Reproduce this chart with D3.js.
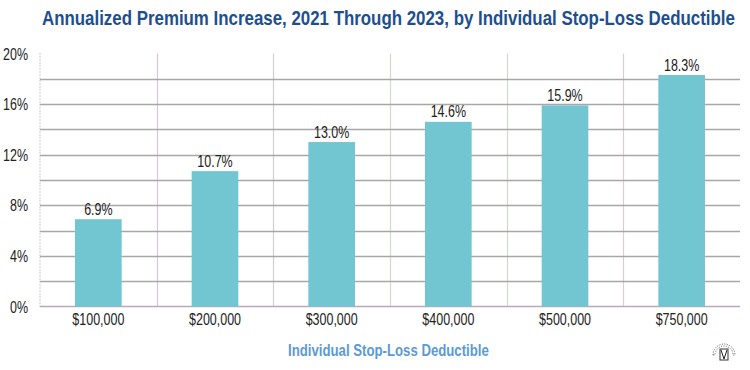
<!DOCTYPE html>
<html>
<head>
<meta charset="utf-8">
<script src="https://cdn.jsdelivr.net/npm/d3@7"></script>
<style>
  html, body { margin: 0; padding: 0; background: #fff; }
  svg { display: block; }
</style>
</head>
<body>
<svg id="chart" width="750" height="370"></svg>
<script>
const title = "Annualized Premium Increase, 2021 Through 2023, by Individual Stop-Loss Deductible";
const xAxisTitle = "Individual Stop-Loss Deductible";
const categories = ["$100,000", "$200,000", "$300,000", "$400,000", "$500,000", "$750,000"];
const values = [6.9, 10.7, 13.0, 14.6, 15.9, 18.3];
const yTicks = [0, 4, 8, 12, 16, 20];
const yGrid = [2, 4, 6, 8, 10, 12, 14, 16, 18];

(function () {
const svg = d3.select("#chart");
const mLeft = 40, mRight = 740, mTop = 53.5, mBottom = 306.5;
const font = "'Liberation Sans', Arial, Helvetica, sans-serif";
const sx = 0.78; // horizontal condensation for the light condensed labels

const x = d3.scaleBand().domain(categories).range([mLeft, mRight]).paddingInner(0).paddingOuter(0);
const y = d3.scaleLinear().domain([0, 20]).range([mBottom, mTop]);

function place(px, py) { return `translate(${px},${py}) scale(${sx},1)`; }

// fit a text horizontally between x0 and a target width via a scale transform
function fitText(sel, x0, y0, width) {
  const len = sel.node().getComputedTextLength();
  sel.attr("transform", `translate(${x0},${y0}) scale(${width / len},1)`);
}

// Title
const t = svg.append("text")
  .attr("font-family", font).attr("font-weight", "bold").attr("font-size", 20)
  .attr("fill", "#1d4f8f").text(title);
fitText(t, 42, 25, 693);

// vertical separators
const vColors = ["#dcc4dc", "#cfcfcf", "#cfdccb", "#cfdccb", "#d6d0d6"];
svg.append("g").selectAll("line").data(categories.slice(1)).join("line")
  .attr("x1", d => Math.round(x(d)) + 0.5).attr("x2", d => Math.round(x(d)) + 0.5)
  .attr("y1", mTop).attr("y2", mBottom)
  .attr("stroke", (d, i) => vColors[i]).attr("stroke-width", 1.2);

// horizontal gridlines
svg.append("g").selectAll("line").data(yGrid).join("line")
  .attr("x1", mLeft).attr("x2", mRight)
  .attr("y1", d => Math.round(y(d)) + 0.5).attr("y2", d => Math.round(y(d)) + 0.5)
  .attr("stroke", "#a9a6a9").attr("stroke-width", 1.3);

// baseline
svg.append("line")
  .attr("x1", mLeft).attr("x2", mRight)
  .attr("y1", y(0)).attr("y2", y(0))
  .attr("stroke", "#b9a9bb").attr("stroke-width", 1.3);

// left axis (dotted)
svg.append("line")
  .attr("x1", mLeft).attr("x2", mLeft)
  .attr("y1", mTop).attr("y2", mBottom)
  .attr("stroke", "#bbb").attr("stroke-width", 1.5).attr("stroke-dasharray", "1,2");

// y tick labels
svg.append("g").selectAll("text").data(yTicks).join("text")
  .attr("transform", d => place(28, y(d) + 6))
  .attr("text-anchor", "end")
  .attr("font-family", font).attr("font-size", 16).attr("fill", "#222")
  .text(d => d + "%");

// bars
const bw = x.bandwidth() * 0.4;
svg.append("g").selectAll("rect").data(values).join("rect")
  .attr("x", (d, i) => x(categories[i]) + x.bandwidth() / 2 - bw / 2)
  .attr("width", bw)
  .attr("y", d => y(d))
  .attr("height", d => y(0) - y(d))
  .attr("fill", "#72c6d2");

// value labels
svg.append("g").selectAll("text").data(values).join("text")
  .attr("transform", (d, i) => place(x(categories[i]) + x.bandwidth() / 2, y(d) - 4.5))
  .attr("text-anchor", "middle")
  .attr("font-family", font).attr("font-size", 16).attr("fill", "#222")
  .text(d => d.toFixed(1) + "%");

// x labels
svg.append("g").selectAll("text").data(categories).join("text")
  .attr("transform", d => place(x(d) + x.bandwidth() / 2, 324.5))
  .attr("text-anchor", "middle")
  .attr("font-family", font).attr("font-size", 16).attr("fill", "#222")
  .text(d => d);

// x axis title
const xt = svg.append("text")
  .attr("font-family", font).attr("font-weight", "bold").attr("font-size", 16)
  .attr("fill", "#5b9ad6").text(xAxisTitle);
fitText(xt, 288, 356, 201);

// small seal logo bottom-right
const logo = svg.append("g").attr("transform", "translate(724,355)");
logo.append("path")
  .attr("d", d3.arc()({innerRadius: 9, outerRadius: 11, startAngle: -Math.PI / 2, endAngle: Math.PI / 2}))
  .attr("fill", "none").attr("stroke", "#555").attr("stroke-width", 1).attr("stroke-dasharray", "1,1.5");
logo.append("rect").attr("x", -4).attr("y", -6).attr("width", 8).attr("height", 11)
  .attr("fill", "none").attr("stroke", "#333").attr("stroke-width", 1);
logo.append("path").attr("d", "M-3,-5 L0,4 L3,-5").attr("fill", "none").attr("stroke", "#222").attr("stroke-width", 1);
})();
</script>
</body>
</html>
